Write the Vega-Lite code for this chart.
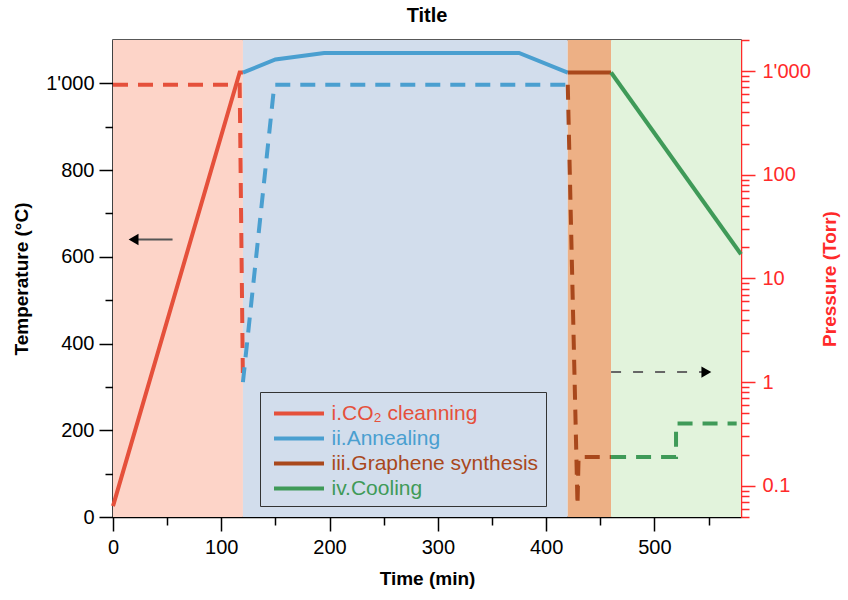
{
  "$schema": "https://vega.github.io/schema/vega-lite/v6.json",
  "width": 628,
  "height": 477,
  "autosize": {"type": "none"},
  "padding": {"left": 113, "top": 40, "right": 107, "bottom": 83},
  "title": {"text": "Title", "fontSize": 20, "fontWeight": "bold", "font": "Liberation Sans", "anchor": "middle", "offset": 4, "color": "#000"},
  "config": {
    "font": "Liberation Sans",
    "view": {"stroke": "#222", "strokeWidth": 1.5},
    "axis": {"grid": false, "labelFontSize": 20, "titleFontSize": 19, "titleFontWeight": "bold", "labelOverlap": false, "labelFlush": false, "domainWidth": 1.5, "tickWidth": 1.5}
  },
  "datasets": {
    "bg": [
      {"stage": "i", "start": 0, "end": 120},
      {"stage": "ii", "start": 120, "end": 420},
      {"stage": "iii", "start": 420, "end": 460},
      {"stage": "iv", "start": 460, "end": 580}
    ],
    "temp": [
      {"phase": "i.CO₂ cleanning", "time": 0, "t": 25, "ord": 0},
      {"phase": "i.CO₂ cleanning", "time": 117, "t": 1025, "ord": 1},
      {"phase": "i.CO₂ cleanning", "time": 120, "t": 1025, "ord": 2},
      {"phase": "ii.Annealing", "time": 120, "t": 1025, "ord": 0},
      {"phase": "ii.Annealing", "time": 150, "t": 1055, "ord": 1},
      {"phase": "ii.Annealing", "time": 195, "t": 1070, "ord": 2},
      {"phase": "ii.Annealing", "time": 375, "t": 1070, "ord": 3},
      {"phase": "ii.Annealing", "time": 420, "t": 1025, "ord": 4},
      {"phase": "iii.Graphene synthesis", "time": 420, "t": 1025, "ord": 0},
      {"phase": "iii.Graphene synthesis", "time": 460, "t": 1025, "ord": 1},
      {"phase": "iv.Cooling", "time": 460, "t": 1025, "ord": 0},
      {"phase": "iv.Cooling", "time": 580, "t": 606, "ord": 1}
    ],
    "press": [
      {"phase": "i.CO₂ cleanning", "time": 0, "p": 740, "ord": 0},
      {"phase": "i.CO₂ cleanning", "time": 117, "p": 740, "ord": 1},
      {"phase": "i.CO₂ cleanning", "time": 120, "p": 1, "ord": 2},
      {"phase": "ii.Annealing", "time": 120, "p": 1, "ord": 0},
      {"phase": "ii.Annealing", "time": 149, "p": 740, "ord": 1},
      {"phase": "ii.Annealing", "time": 420, "p": 740, "ord": 2},
      {"phase": "iii.Graphene synthesis", "time": 420, "p": 740, "ord": 0},
      {"phase": "iii.Graphene synthesis", "time": 429, "p": 0.065, "ord": 1},
      {"phase": "iii.Graphene synthesis", "time": 430, "p": 0.19, "ord": 2},
      {"phase": "iii.Graphene synthesis", "time": 460, "p": 0.19, "ord": 3},
      {"phase": "iv.Cooling", "time": 460, "p": 0.19, "ord": 0},
      {"phase": "iv.Cooling", "time": 520, "p": 0.19, "ord": 1},
      {"phase": "iv.Cooling", "time": 520, "p": 0.4, "ord": 2},
      {"phase": "iv.Cooling", "time": 576, "p": 0.4, "ord": 3}
    ],
    "arrowL": [
      {"time": 55, "t": 640, "ord": 0},
      {"time": 21, "t": 640, "ord": 1}
    ],
    "arrowLHead": [{"time": 19, "t": 640}],
    "arrowR": [
      {"time": 460, "p": 1.25, "ord": 0},
      {"time": 545, "p": 1.25, "ord": 1}
    ],
    "arrowRHead": [{"time": 548, "p": 1.25}]
  },
  "layer": [
    {
      "data": {"name": "bg"},
      "mark": {"type": "rect"},
      "encoding": {
        "x": {"field": "start", "type": "quantitative", "scale": {"domain": [0, 580], "nice": false, "zero": false},
          "axis": {"title": "Time (min)", "values": [0, 50, 100, 150, 200, 250, 300, 350, 400, 450, 500, 550],
            "labelExpr": "datum.value % 100 == 0 ? datum.label : ''",
            "tickSize": {"condition": {"test": "datum.value % 100 == 0", "value": 14}, "value": 8},
            "labelPadding": 6, "titlePadding": 12, "domainColor": "#000", "tickColor": "#000", "labelColor": "#000", "titleColor": "#000"}},
        "x2": {"field": "end"},
        "fill": {"field": "stage", "type": "nominal", "legend": null,
          "scale": {"domain": ["i", "ii", "iii", "iv"], "range": ["#fdd4c8", "#d2ddec", "#edb085", "#e2f3dc"]}}
      }
    },
    {
      "layer": [
        {
          "data": {"name": "temp"},
          "mark": {"type": "line", "strokeWidth": 4},
          "encoding": {
            "x": {"field": "time", "type": "quantitative", "title": "Time (min)"},
            "y": {"field": "t", "type": "quantitative", "scale": {"domain": [0, 1100], "nice": false},
              "axis": {"title": "Temperature (°C)", "orient": "left", "values": [0, 100, 200, 300, 400, 500, 600, 700, 800, 900, 1000],
                "labelExpr": "datum.value % 200 == 0 ? (datum.value == 1000 ? \"1'000\" : datum.label) : ''",
                "tickSize": {"condition": {"test": "datum.value % 200 == 0", "value": 14}, "value": 8},
                "labelPadding": 5, "titlePadding": 14, "domainColor": "#000", "tickColor": "#000", "labelColor": "#000", "titleColor": "#000"}},
            "color": {"field": "phase", "type": "nominal",
              "scale": {"domain": ["i.CO₂ cleanning", "ii.Annealing", "iii.Graphene synthesis", "iv.Cooling"], "range": ["#e5503b", "#4a9fd0", "#a9481c", "#3f9a58"]},
              "legend": {"title": null, "orient": "none", "legendX": 147, "legendY": 352, "strokeColor": "#333", "padding": 7,
                "symbolType": "M-2,0L2,0", "symbolSize": 625, "symbolStrokeWidth": 4, "symbolOffset": 17.5, "symbolDash": [1, 0],
                "labelFontSize": 21, "labelOffset": 18, "labelLimit": 400, "rowPadding": 0,
                "encode": {"labels": {"update": {"fill": {"scale": "color", "field": "value"}}}}},
              "title": null},
            "order": {"field": "ord", "type": "quantitative"}
          }
        },
        {
          "data": {"name": "arrowL"},
          "mark": {"type": "line", "strokeWidth": 2, "color": "#555"},
          "encoding": {
            "x": {"field": "time", "type": "quantitative"},
            "y": {"field": "t", "type": "quantitative"},
            "order": {"field": "ord", "type": "quantitative"}
          }
        },
        {
          "data": {"name": "arrowLHead"},
          "mark": {"type": "point", "shape": "triangle-left", "filled": true, "size": 130, "color": "#000", "opacity": 1},
          "encoding": {
            "x": {"field": "time", "type": "quantitative"},
            "y": {"field": "t", "type": "quantitative"}
          }
        }
      ]
    },
    {
      "layer": [
        {
          "data": {"name": "press"},
          "mark": {"type": "line", "strokeWidth": 4, "strokeDash": [15, 10]},
          "encoding": {
            "x": {"field": "time", "type": "quantitative"},
            "y": {"field": "p", "type": "quantitative", "scale": {"type": "log", "domain": [0.05, 2000], "nice": false},
              "axis": {"title": "Pressure (Torr)", "orient": "right",
                "values": [0.05, 0.06, 0.07, 0.08, 0.09, 0.1, 0.2, 0.3, 0.4, 0.5, 0.6, 0.7, 0.8, 0.9, 1, 2, 3, 4, 5, 6, 7, 8, 9, 10, 20, 30, 40, 50, 60, 70, 80, 90, 100, 200, 300, 400, 500, 600, 700, 800, 900, 1000, 2000],
                "labelExpr": "abs(log(datum.value)/LN10 - round(log(datum.value)/LN10)) < 1e-6 ? (datum.value >= 1000 ? \"1'000\" : format(datum.value, '~g')) : ''",
                "tickSize": {"condition": {"test": "abs(log(datum.value)/LN10 - round(log(datum.value)/LN10)) < 1e-6", "value": 14}, "value": 8},
                "labelPadding": 7, "titlePadding": 10, "titleAngle": 270, "titleBaseline": "top",
                "domainColor": "#ff2a2a", "tickColor": "#ff2a2a", "labelColor": "#ff2a2a", "titleColor": "#ff2a2a"}},
            "color": {"field": "phase", "type": "nominal"},
            "order": {"field": "ord", "type": "quantitative"}
          }
        },
        {
          "data": {"name": "arrowR"},
          "mark": {"type": "line", "strokeWidth": 2, "strokeDash": [10, 12], "color": "#666"},
          "encoding": {
            "x": {"field": "time", "type": "quantitative"},
            "y": {"field": "p", "type": "quantitative"},
            "order": {"field": "ord", "type": "quantitative"}
          }
        },
        {
          "data": {"name": "arrowRHead"},
          "mark": {"type": "point", "shape": "triangle-right", "filled": true, "size": 130, "color": "#000", "opacity": 1},
          "encoding": {
            "x": {"field": "time", "type": "quantitative"},
            "y": {"field": "p", "type": "quantitative"}
          }
        }
      ]
    }
  ],
  "resolve": {"scale": {"y": "independent"}}
}
